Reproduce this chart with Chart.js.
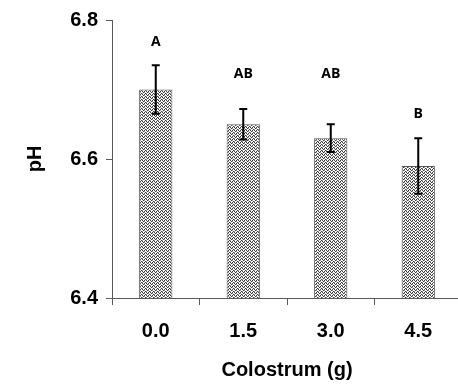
<!DOCTYPE html>
<html>
<head>
<meta charset="utf-8">
<script src="https://cdn.jsdelivr.net/npm/chart.js@4"></script>
<style>
  html, body { margin: 0; padding: 0; background: #fff; overflow: hidden; }
  #wrap { width: 466px; height: 385px; }
</style>
</head>
<body>
<div id="wrap"><canvas id="phChart"></canvas></div>
<script>
// data
const doses = ['0.0', '1.5', '3.0', '4.5'];
const phMeans = [6.70, 6.65, 6.63, 6.59];
const phErrors = [0.035, 0.022, 0.020, 0.040];
const sigLetters = ['A', 'AB', 'AB', 'B'];
const letterLevels = [6.768, 6.722, 6.722, 6.665];
const yTicks = [6.4, 6.6, 6.8];

// zigzag hatch fill like the original
function makeZigzag() {
    const c = document.createElement('canvas');
    c.width = 4;
    c.height = 3;
    const g = c.getContext('2d');
    g.fillStyle = '#fff';
    g.fillRect(0, 0, 4, 3);
    g.fillStyle = '#3c3c3c';
    // hand-placed zigzag pixels
    g.fillRect(0, 1, 1, 1);
    g.fillRect(1, 0, 1, 1);
    g.fillRect(2, 1, 1, 1);
    g.fillRect(3, 2, 1, 1);
    g.fillStyle = '#9a9a9a';
    g.fillRect(0, 2, 1, 1);
    g.fillRect(2, 0, 1, 1);
    return g.createPattern(c, 'repeat');
}

const errorBars = {
    id: 'errorBars',
    afterDatasetsDraw(chart) {
        const ctx = chart.ctx;
        const y = chart.scales.y;
        const meta = chart.getDatasetMeta(0);
        ctx.save();
        ctx.strokeStyle = '#000';
        ctx.lineWidth = 2;
        meta.data.forEach((bar, i) => {
            const top = y.getPixelForValue(phMeans[i] + phErrors[i]);
            const bot = y.getPixelForValue(phMeans[i] - phErrors[i]);
            ctx.beginPath();
            ctx.moveTo(bar.x, top);
            ctx.lineTo(bar.x, bot);
            ctx.moveTo(bar.x - 4, top);
            ctx.lineTo(bar.x + 4, top);
            ctx.moveTo(bar.x - 4, bot);
            ctx.lineTo(bar.x + 4, bot);
            ctx.stroke();
        });
        // significance letters
        ctx.fillStyle = '#000';
        ctx.font = 'bold 14px "Open Sans", sans-serif';
        ctx.textAlign = 'center';
        ctx.textBaseline = 'middle';
        meta.data.forEach((bar, i) => {
            ctx.fillText(sigLetters[i], bar.x, y.getPixelForValue(letterLevels[i]));
        });
        ctx.restore();
    }
};

const ctx = document.getElementById('phChart').getContext('2d');
new Chart(ctx, {
    type: 'bar',
    data: {
        labels: doses,
        datasets: [{
            data: phMeans,
            backgroundColor: makeZigzag(),
            borderColor: '#555',
            borderWidth: 1,
            borderSkipped: false,
            barPercentage: 1,
            categoryPercentage: 0.38
        }]
    },
    options: {
        responsive: true,
        maintainAspectRatio: false,
        animation: false,
        layout: { padding: { top: 20, right: 4, left: 0, bottom: 0 } },
        plugins: {
            legend: { display: false },
            tooltip: { enabled: false }
        },
        scales: {
            x: {
                grid: {
                    offset: true,
                    drawOnChartArea: false,
                    drawTicks: true,
                    tickLength: 7,
                    color: '#595959'
                },
                border: { color: '#595959', width: 1 },
                ticks: {
                    color: '#000',
                    padding: 14,
                    font: { family: '"Liberation Sans", Arial, sans-serif', size: 20, weight: 'bold' }
                },
                title: {
                    display: true,
                    text: 'Colostrum (g)',
                    color: '#000',
                    font: { family: '"Liberation Sans", Arial, sans-serif', size: 20, weight: 'bold' },
                    padding: { top: 0, bottom: 3 }
                },
                afterFit(scale) { scale.height = 87; }
            },
            y: {
                min: 6.4,
                max: 6.8,
                afterBuildTicks(scale) {
                    scale.ticks = yTicks.map(v => ({ value: v }));
                },
                grid: {
                    drawOnChartArea: false,
                    drawTicks: true,
                    tickLength: 6,
                    color: '#595959'
                },
                border: { color: '#595959', width: 1 },
                ticks: {
                    color: '#000',
                    padding: 8,
                    callback: v => v.toFixed(1),
                    font: { family: '"Liberation Sans", Arial, sans-serif', size: 20, weight: 'bold' }
                },
                title: {
                    display: true,
                    text: 'pH',
                    color: '#000',
                    font: { family: '"Liberation Sans", Arial, sans-serif', size: 20, weight: 'bold' },
                    padding: { top: 23, bottom: 0 }
                },
                afterFit(scale) { scale.width = 112; }
            }
        }
    },
    plugins: [errorBars]
});
</script>
</body>
</html>
